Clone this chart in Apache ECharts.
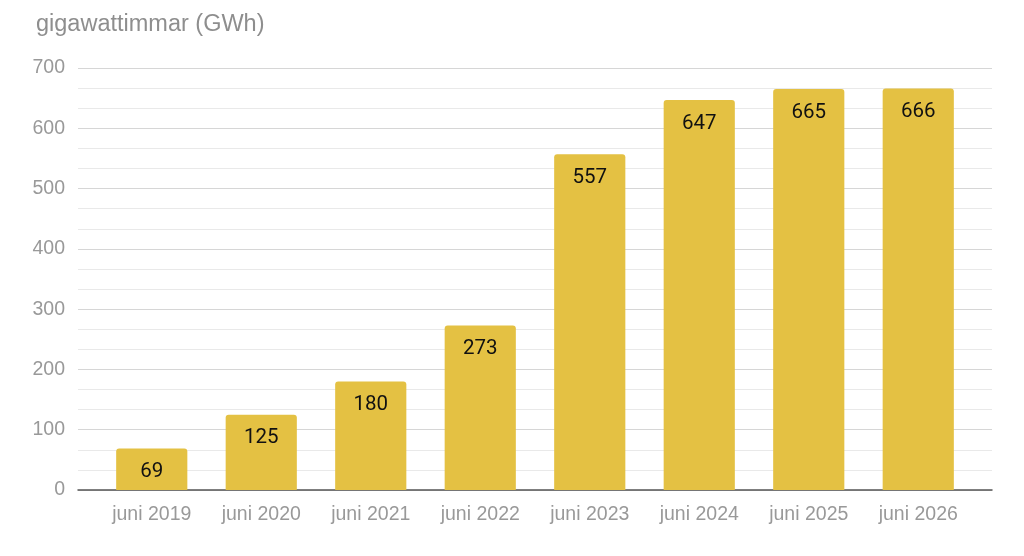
<!DOCTYPE html>
<html>
<head>
<meta charset="utf-8">
<script src="https://cdn.jsdelivr.net/npm/echarts@6/dist/echarts.min.js"></script>
<style>
  html, body { margin: 0; padding: 0; background: #fff; }
  #chart { width: 1024px; height: 556px; }
</style>
</head>
<body>
<div id="chart"></div>
<script>
var categories = ['juni 2019', 'juni 2020', 'juni 2021', 'juni 2022', 'juni 2023', 'juni 2024', 'juni 2025', 'juni 2026'];
var values = [69, 125, 180, 273, 557, 647, 665, 666];
var yTicks = [0, 100, 200, 300, 400, 500, 600, 700];

var chart = echarts.init(document.getElementById('chart'));

var axisFont = 'Liberation Sans, Arial, sans-serif';

chart.setOption({
	animation: false,
	title: {
		text: 'gigawattimmar (GWh)',
		left: 31,
		top: 8,
		textStyle: { color: '#8e8e8e', fontSize: 23.5, fontWeight: 'normal', fontFamily: axisFont }
	},
	// grid 0 carries the gridlines and the baseline, grid 1 the bars (inset like the original)
	grid: [
		{ left: 78, right: 32, top: 68, bottom: 66 },
		{ left: 97, right: 51, top: 68, bottom: 66 }
	],
	xAxis: [{
		gridIndex: 0,
		type: 'value',
		min: 0,
		max: 1,
		splitLine: { show: false },
		axisTick: { show: false },
		axisLabel: { show: false },
		axisLine: { show: true, lineStyle: { color: '#555', width: 1.5 } }
	}, {
		gridIndex: 1,
		type: 'category',
		data: categories,
		axisTick: { show: false },
		axisLine: { show: false },
		axisLabel: { color: '#999', fontSize: 19.5, fontFamily: axisFont, margin: 15 }
	}],
	yAxis: [{
		gridIndex: 0,
		type: 'value',
		min: yTicks[0],
		max: yTicks[yTicks.length - 1],
		interval: 100,
		axisLine: { show: false },
		axisTick: { show: false },
		axisLabel: { color: '#999', fontSize: 19.5, fontFamily: axisFont, margin: 13 },
		splitLine: { lineStyle: { color: '#d6d6d6', width: 1 } },
		minorTick: { show: false, splitNumber: 3 },
		minorSplitLine: { show: true, lineStyle: { color: '#e9e9e9', width: 1 } }
	}, {
		gridIndex: 1,
		type: 'value',
		min: yTicks[0],
		max: yTicks[yTicks.length - 1],
		interval: 100,
		show: false
	}],
	series: [{
		type: 'bar',
		xAxisIndex: 1,
		yAxisIndex: 1,
		data: values,
		barWidth: '65%',
		itemStyle: { color: '#e4c143', borderRadius: [3, 3, 0, 0] },
		label: {
			show: true,
			position: 'insideTop',
			distance: 13,
			color: '#111',
			fontSize: 20.5,
			fontFamily: 'Roboto'
		}
	}]
});
</script>
</body>
</html>
